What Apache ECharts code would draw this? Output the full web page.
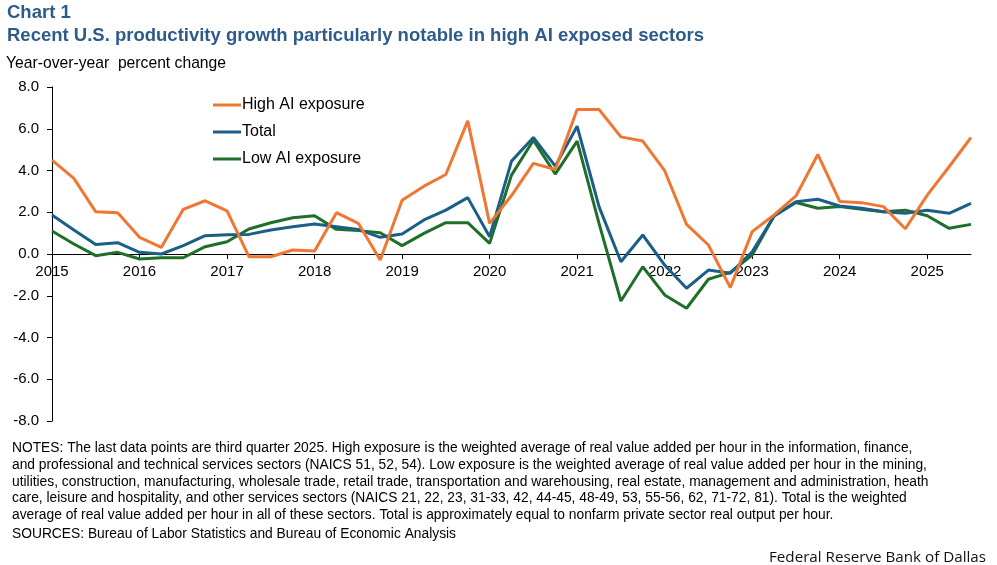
<!DOCTYPE html>
<html>
<head>
<meta charset="utf-8">
<script src="https://cdn.jsdelivr.net/npm/echarts@6/dist/echarts.min.js"></script>
<style>
  html, body { margin: 0; padding: 0; background: #fff; }
  #chart { width: 997px; height: 565px; }
</style>
</head>
<body>
<div id="chart"></div>
<script>
// quarters 2015Q1 .. 2025Q3
const quarters = []
for (let y = 2015; y <= 2025; y++) {
    for (let q = 1; q <= 4; q++) {
        if (y === 2025 && q > 3) break
        quarters.push(y + 'Q' + q)
    }
}

const highAI = [
    4.50, 3.62, 2.02, 1.98, 0.80, 0.32, 2.14, 2.55, 2.07, -0.13, -0.13, 0.19,
    0.14, 1.98, 1.47, -0.29, 2.58, 3.25, 3.81, 6.38, 1.47, 2.80, 4.34, 4.05,
    6.92, 6.92, 5.61, 5.41, 3.99, 1.42, 0.43, -1.61, 1.07, 1.87, 2.78, 4.77,
    2.52, 2.46, 2.27, 1.21, 2.82, 4.18, 5.58
]
const total = [
    1.87, 1.15, 0.46, 0.54, 0.08, 0.00, 0.40, 0.88, 0.92, 0.94, 1.15, 1.31,
    1.44, 1.31, 1.18, 0.80, 0.96, 1.63, 2.10, 2.70, 0.83, 4.45, 5.58, 4.21,
    6.12, 2.27, -0.37, 0.91, -0.53, -1.64, -0.77, -0.92, 0.11, 1.82, 2.50, 2.62,
    2.30, 2.19, 2.02, 1.95, 2.10, 1.95, 2.43
]
const lowAI = [
    1.10, 0.48, -0.08, 0.08, -0.24, -0.18, -0.18, 0.35, 0.59, 1.20, 1.50, 1.74,
    1.83, 1.18, 1.12, 1.02, 0.40, 0.99, 1.50, 1.50, 0.51, 3.78, 5.45, 3.83,
    5.41, 1.47, -2.25, -0.61, -1.96, -2.60, -1.21, -0.88, -0.05, 1.82, 2.47, 2.19,
    2.27, 2.14, 2.02, 2.10, 1.83, 1.23, 1.42
]

const seriesNames = ['High AI exposure', 'Total', 'Low AI exposure']
const seriesColors = ['#EE7733', '#1B5F86', '#1F6F2A']

const notes = [
    'NOTES: The last data points are third quarter 2025. High exposure is the weighted average of real value added per hour in the information, finance,',
    'and professional and technical services sectors (NAICS 51, 52, 54). Low exposure is the weighted average of real value added per hour in the mining,',
    'utilities, construction, manufacturing, wholesale trade, retail trade, transportation and warehousing, real estate, management and administration, heath',
    'care, leisure and hospitality, and other services sectors (NAICS 21, 22, 23, 31-33, 42, 44-45, 48-49, 53, 55-56, 62, 71-72, 81). Total is the weighted',
    'average of real value added per hour in all of these sectors. Total is approximately equal to nonfarm private sector real output per hour.'
].join('\n')

const font = 'Liberation Sans, Arial, sans-serif'
const titleColor = '#2D5B8C'

const myChart = echarts.init(document.getElementById('chart'))
myChart.setOption({
    animation: false,
    textStyle: { fontFamily: font },
    title: [
        {
            text: 'Chart 1', left: 2, top: -2,
            textStyle: { fontSize: 18.5, fontWeight: 'bold', color: titleColor, fontFamily: font }
        },
        {
            text: 'Recent U.S. productivity growth particularly notable in high AI exposed sectors', left: 2, top: 21,
            textStyle: { fontSize: 18.5, fontWeight: 'bold', color: titleColor, fontFamily: font }
        },
        {
            text: 'Year-over-year  percent change', left: 1, top: 51,
            textStyle: { fontSize: 15.7, fontWeight: 'normal', color: '#000', fontFamily: font }
        },
        {
            text: notes, left: 7, top: 435,
            textStyle: { fontSize: 13.8, fontWeight: 'normal', color: '#000', lineHeight: 16.7, fontFamily: font }
        },
        {
            text: 'SOURCES: Bureau of Labor Statistics and Bureau of Economic Analysis', left: 7, top: 522,
            textStyle: { fontSize: 13.8, fontWeight: 'normal', color: '#000', fontFamily: font }
        },
        {
            text: 'Federal Reserve Bank of Dallas', right: 6, top: 545,
            textStyle: { fontSize: 15.2, fontWeight: 'normal', color: '#111', fontFamily: 'Open Sans, sans-serif' }
        }
    ],
    legend: {
        orient: 'vertical',
        left: 208, top: 92,
        itemWidth: 28, itemHeight: 3, itemGap: 11,
        icon: 'rect',
        textStyle: { fontSize: 16, color: '#000', padding: [0, 0, 0, -4] },
        data: seriesNames
    },
    grid: { left: 52, right: 26, top: 87, bottom: 144 },
    xAxis: {
        type: 'category',
        data: quarters,
        boundaryGap: false,
        offset: -167,
        axisLine: { onZero: false, lineStyle: { color: '#000', width: 1 } },
        axisTick: { interval: 3, length: 5, lineStyle: { color: '#000' } },
        axisLabel: {
            interval: 3, color: '#000', fontSize: 15, margin: 10,
            formatter: v => v.slice(0, 4)
        }
    },
    yAxis: {
        type: 'value',
        min: -8, max: 8, interval: 2,
        axisLine: { show: true, lineStyle: { color: '#000', width: 1 } },
        axisTick: { show: true, length: 5, lineStyle: { color: '#000' } },
        splitLine: { show: false },
        axisLabel: { color: '#000', fontSize: 15, margin: 13, formatter: v => v.toFixed(1) }
    },
    series: [highAI, total, lowAI].map((d, i) => ({
        name: seriesNames[i],
        type: 'line',
        data: d,
        symbol: 'none',
        color: seriesColors[i],
        lineStyle: { width: 3, color: seriesColors[i] },
        z: 3 - i
    }))
})
window.addEventListener('resize', myChart.resize)
</script>
</body>
</html>
